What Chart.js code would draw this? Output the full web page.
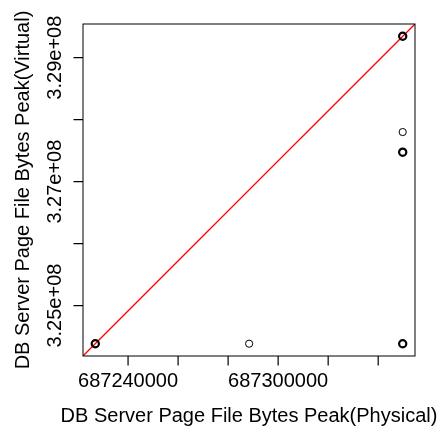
<!DOCTYPE html>
<html>
<head>
<meta charset="utf-8">
<script src="https://cdn.jsdelivr.net/npm/chart.js@4/dist/chart.umd.min.js"></script>
<style>
  html, body { margin: 0; padding: 0; background: #fff; }
  #wrap { width: 445px; height: 434px; }
</style>
</head>
<body>
<div id="wrap"><canvas id="grafico"></canvas></div>
<script>
// Datos (physical vs virtual)
const fisico = [687226900, 687288400, 687349800, 687349800, 687349800, 687349800];
const virtual = [324385000, 324385000, 324385000, 327475000, 327800000, 329345000];
// observaciones superpuestas en cada punto (estimado por el grosor del círculo)
const repeticiones = [3, 1, 3, 3, 1, 3];

const xTickValores = [687240000, 687260000, 687280000, 687300000, 687320000, 687340000];
const xTickEtiquetas = ['687240000', '', '', '687300000', '', ''];
const yTickValores = [325000000, 326000000, 327000000, 328000000, 329000000];
const yTickEtiquetas = ['3.25e+08', '', '3.27e+08', '', '3.29e+08'];

const tituloX = 'DB Server Page File Bytes Peak(Physical)';
const tituloY = 'DB Server Page File Bytes Peak(Virtual)';

// rango como en R: 4% extra a cada lado
function rango(vals) {
  const min = Math.min(...vals), max = Math.max(...vals);
  const d = (max - min) * 0.04;
  return [min - d, max + d];
}
const [xMin, xMax] = rango(fisico);
const [yMin, yMax] = rango(virtual);

// recta que pasa por (min,min) y (max,max)
const x0 = Math.min(...fisico), x1 = Math.max(...fisico);
const y0 = Math.min(...virtual), y1 = Math.max(...virtual);
const recta = x => y0 + (x - x0) * (y1 - y0) / (x1 - x0);

const puntos = fisico.map((x, i) => ({ x: x, y: virtual[i] }));
const fuente = '"Liberation Sans", Arial, sans-serif';
const largoMarca = 9.5;

// caja alrededor del área y marcas de los ejes (estilo R)
const cajaPlugin = {
  id: 'caja',
  afterDraw(chart) {
    const { ctx, chartArea: a } = chart;
    const xs = chart.scales.x, ys = chart.scales.y;
    ctx.save();
    ctx.strokeStyle = '#000';
    ctx.lineWidth = 1;
    ctx.strokeRect(a.left, a.top, a.right - a.left, a.bottom - a.top);
    ctx.lineWidth = 1.2;
    ctx.beginPath();
    xTickValores.forEach(v => {
      const px = xs.getPixelForValue(v);
      ctx.moveTo(px, a.bottom);
      ctx.lineTo(px, a.bottom + largoMarca);
    });
    yTickValores.forEach(v => {
      const py = ys.getPixelForValue(v);
      ctx.moveTo(a.left, py);
      ctx.lineTo(a.left - largoMarca, py);
    });
    ctx.stroke();
    ctx.restore();
  }
};

// etiquetas del eje y giradas y títulos de ejes (como en R, sin comprimir el texto)
const textosPlugin = {
  id: 'textos',
  afterDraw(chart) {
    const ys = chart.scales.y;
    const a = chart.chartArea;
    const ctx = chart.ctx;
    ctx.save();
    ctx.font = '20px ' + fuente;
    ctx.fillStyle = '#000';
    ctx.textAlign = 'center';
    ctx.textBaseline = 'alphabetic';
    yTickValores.forEach((v, i) => {
      if (!yTickEtiquetas[i]) return;
      const py = ys.getPixelForValue(v);
      ctx.save();
      ctx.translate(ys.right - 22, py);
      ctx.rotate(-Math.PI / 2);
      ctx.fillText(yTickEtiquetas[i], 0, 0);
      ctx.restore();
    });
    // título eje x
    ctx.fillText(tituloX, (a.left + a.right) / 2, 422);
    // título eje y
    ctx.save();
    ctx.translate(28.5, (a.top + a.bottom) / 2);
    ctx.rotate(-Math.PI / 2);
    ctx.fillText(tituloY, 0, 0);
    ctx.restore();
    ctx.restore();
  }
};

new Chart(document.getElementById('grafico'), {
  type: 'scatter',
  data: {
    datasets: [
      {
        label: 'puntos',
        data: puntos,
        showLine: false,
        pointStyle: 'circle',
        pointRadius: 3.6,
        pointHoverRadius: 3.6,
        pointBackgroundColor: 'rgba(0,0,0,0)',
        pointBorderColor: '#000',
        pointBorderWidth: repeticiones.map(n => n > 1 ? 2.2 : 1)
      },
      {
        label: 'recta',
        type: 'line',
        data: [{ x: xMin, y: recta(xMin) }, { x: xMax, y: recta(xMax) }],
        borderColor: '#ff0000',
        borderWidth: 1.3,
        pointRadius: 0,
        fill: false
      }
    ]
  },
  options: {
    responsive: true,
    maintainAspectRatio: false,
    animation: false,
    layout: { padding: { top: 24, right: 30, left: 0, bottom: 0 } },
    plugins: { legend: { display: false }, tooltip: { enabled: false } },
    scales: {
      x: {
        type: 'linear',
        min: xMin,
        max: xMax,
        afterBuildTicks: s => { s.ticks = xTickValores.map(v => ({ value: v })); },
        afterFit: s => { s.height = 78; },
        grid: { display: false, tickLength: 9 },
        border: { display: false },
        ticks: {
          source: 'data',
          autoSkip: false,
          maxRotation: 0,
          padding: 4,
          color: '#000',
          font: { family: fuente, size: 20 },
          callback: (v, i) => xTickEtiquetas[i]
        },
        title: { display: false }
      },
      y: {
        type: 'linear',
        min: yMin,
        max: yMax,
        afterBuildTicks: s => { s.ticks = yTickValores.map(v => ({ value: v })); },
        afterFit: s => { s.width = 83; },
        grid: { display: false },
        border: { display: false },
        ticks: { display: false },
        title: { display: false }
      }
    }
  },
  plugins: [cajaPlugin, textosPlugin]
});
</script>
</body>
</html>
